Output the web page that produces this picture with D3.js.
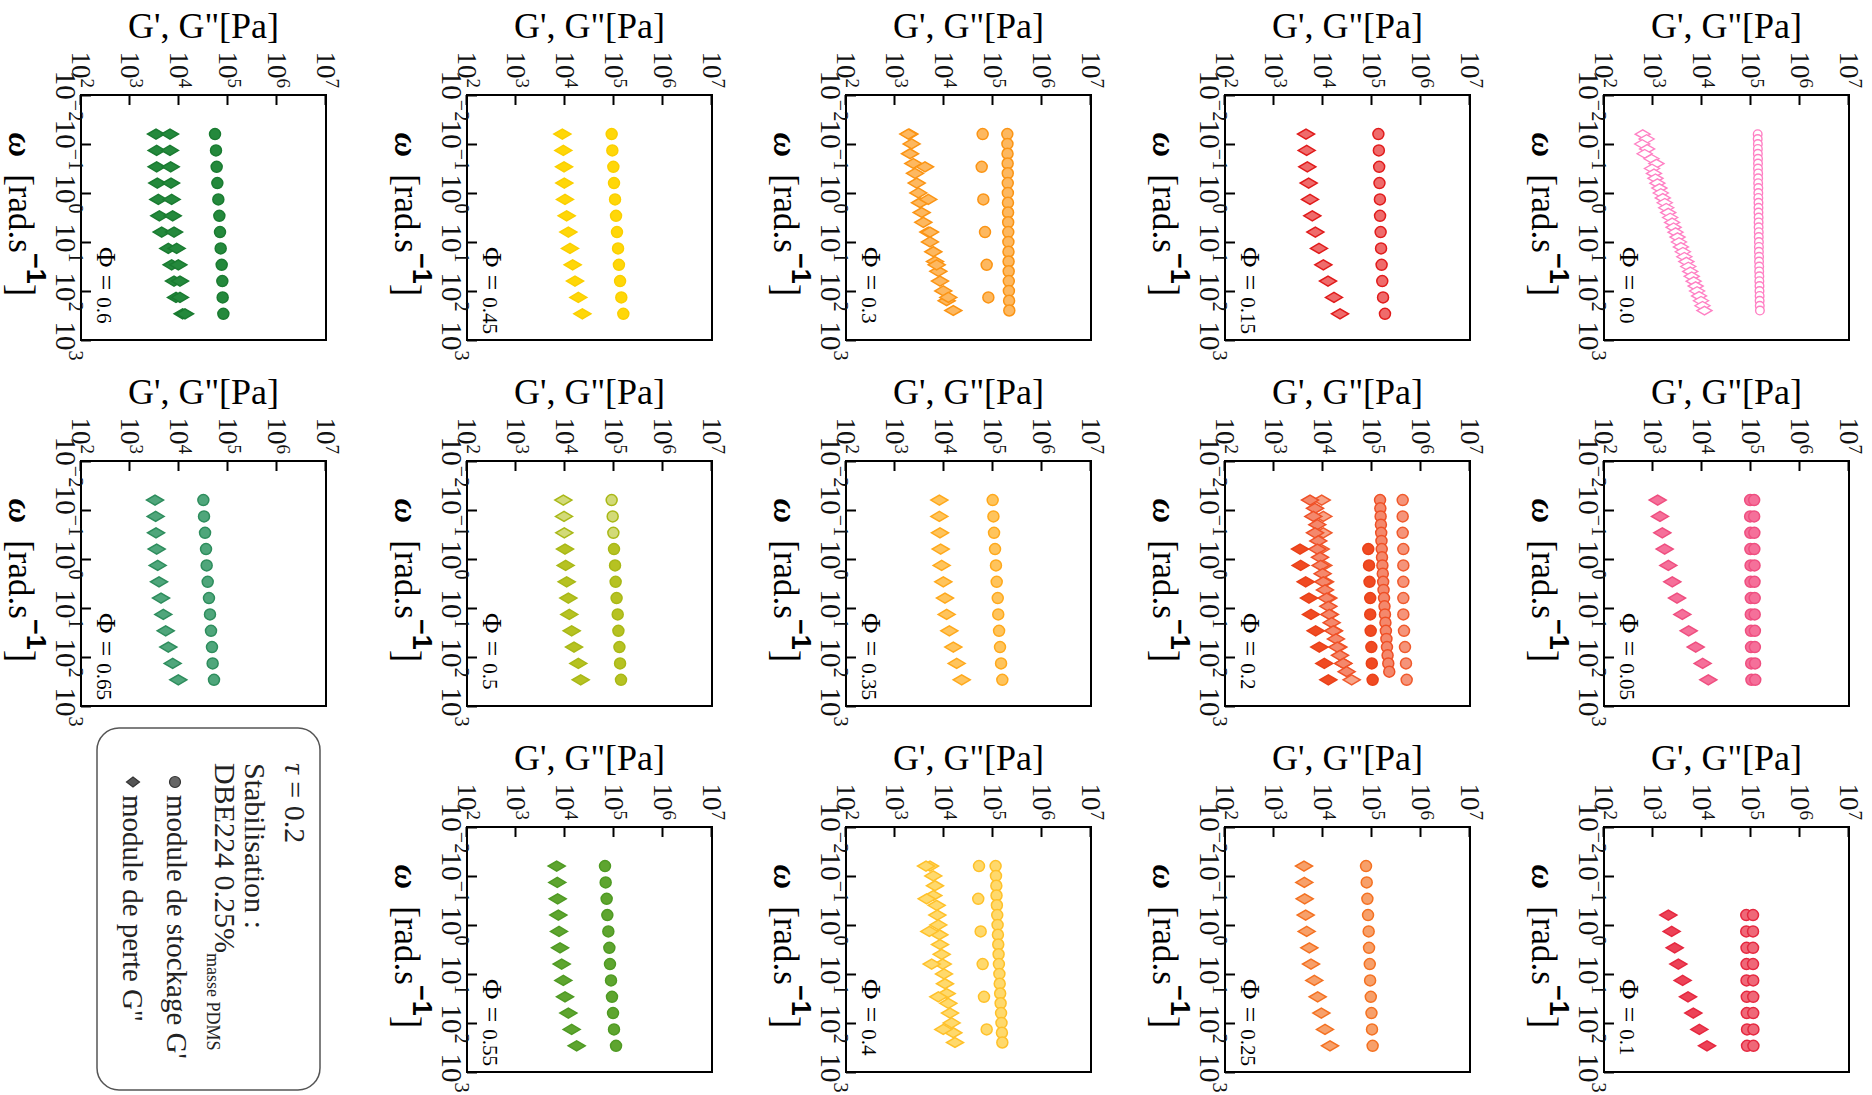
<!DOCTYPE html>
<html><head><meta charset="utf-8">
<script src="https://cdn.jsdelivr.net/npm/d3@7"></script>
<style>body{margin:0;background:#fff}svg{display:block}</style></head>
<body><svg id="c" width="1872" height="1095"></svg>
<script>
// ---------- DATA ----------
const wTicks = [1e-2, 1e-1, 1e0, 1e1, 1e2, 1e3];
const wTickExp = ["−2", "−1", "0", "1", "2", "3"];
const gTicks = [1e2, 1e3, 1e4, 1e5, 1e6, 1e7];
const gTickExp = ["2", "3", "4", "5", "6", "7"];

const w12 = [0.0628, 0.135, 0.292, 0.628, 1.35, 2.92, 6.28, 13.5, 29.2, 62.8, 135, 292];
const w9 = [0.628, 1.35, 2.92, 6.28, 13.5, 29.2, 62.8, 135, 292];
const w6 = [0.0628, 0.292, 1.35, 6.28, 29.2, 135];
const w19 = [0.0628, 0.0995, 0.158, 0.25, 0.396, 0.628, 0.995, 1.58, 2.5, 3.96, 6.28, 9.95, 15.8, 25, 39.6, 62.8, 99.5, 158, 250];
const w22 = [0.0628, 0.0923, 0.135, 0.199, 0.292, 0.428, 0.628, 0.923, 1.35, 1.99, 2.92, 4.28, 6.28, 9.23, 13.5, 19.9, 29.2, 42.8, 62.8, 92.3, 135, 199];
const w37 = [0.063, 0.079, 0.1, 0.126, 0.158, 0.2, 0.251, 0.316, 0.398, 0.501, 0.631, 0.794, 1, 1.26, 1.58, 2, 2.51, 3.16, 3.98, 5.01, 6.31, 7.94, 10, 12.6, 15.8, 20, 25.1, 31.6, 39.8, 50.1, 63.1, 79.4, 100, 126, 158, 200, 251];

const phiLabels = ["0.0", "0.05", "0.1", "0.15", "0.2", "0.25", "0.3", "0.35", "0.4", "0.45", "0.5", "0.55", "0.6", "0.65"];

const p000_Gp = [1.37e5,1.37e5,1.38e5,1.38e5,1.38e5,1.39e5,1.39e5,1.39e5,1.40e5,1.40e5,1.40e5,1.41e5,1.41e5,1.41e5,1.42e5,1.42e5,1.42e5,1.43e5,1.43e5,1.43e5,1.44e5,1.44e5,1.45e5,1.45e5,1.45e5,1.46e5,1.46e5,1.47e5,1.47e5,1.48e5,1.48e5,1.49e5,1.49e5,1.50e5,1.50e5,1.51e5,1.52e5];
const p000_Gpp = [617,741,603,759,676,933,1175,955,1047,1122,1230,1349,1445,1585,1738,1862,2042,2239,2455,2630,2884,3162,3388,3715,4074,4365,4786,5248,5754,6166,6761,7413,7943,8710,9550,10233,11220];

const p005_GpA = [9.6e4,9.6e4,9.7e4,9.7e4,9.8e4,9.8e4,9.9e4,9.9e4,1.0e5,1.0e5,1.01e5,1.02e5];
const p005_GpB = [1.16e5,1.16e5,1.17e5,1.17e5,1.18e5,1.18e5,1.19e5,1.19e5,1.2e5,1.2e5,1.21e5,1.22e5];
const p005_Gpp = [1245,1390,1549,1730,2056,2477,3090,3970,5350,7430,10320,13460];

const p010_GpA = [8.0e4,8.0e4,8.1e4,8.1e4,8.1e4,8.2e4,8.2e4,8.3e4,8.3e4];
const p010_GpB = [1.1e5,1.1e5,1.1e5,1.1e5,1.11e5,1.11e5,1.11e5,1.12e5,1.12e5];
const p010_Gpp = [2056,2405,2770,3290,4030,5180,6650,8830,12650];

const p015_Gp = [1.35e5,1.38e5,1.40e5,1.42e5,1.45e5,1.46e5,1.50e5,1.53e5,1.57e5,1.62e5,1.68e5,1.84e5];
const p015_Gpp = [4500,4645,4786,5094,5430,6050,6980,8280,10160,12650,16760,22230];

const p020_GpA = [4.23e5,4.23e5,4.23e5,4.36e5,4.36e5,4.36e5,4.36e5,4.36e5,4.5e5,4.71e5,4.94e5,5.1e5];
const p020_GpB = [1.46e5,1.48e5,1.50e5,1.52e5,1.54e5,1.56e5,1.58e5,1.60e5,1.63e5,1.66e5,1.69e5,1.72e5,1.76e5,1.80e5,1.84e5,1.88e5,1.92e5,1.97e5,2.02e5,2.08e5,2.15e5,2.25e5];
const p020_GpC = [8.4e4,8.7e4,8.9e4,9.2e4,9.2e4,9.4e4,9.7e4,9.9e4,1.03e5];
const p020_GppA = [9400,10160,10160,8955,10160,10990,12850,13900,16760,20560,26000,38460];
const p020_GppB = [5430,6870,6350,7660,6870,8035,7660,8690,8955,9840,10160,10990,11880,12850,13460,15030,16260,18400,19590,22230,26000,30400];
const p020_GppC = [3395,3500,4430,5180,5690,7080,8410,10640,12850];

const p025_Gp = [7.55e4,7.8e4,8.05e4,8.3e4,8.55e4,8.7e4,9.0e4,9.15e4,9.45e4,9.75e4,1.0e5,1.03e5];
const p025_Gpp = [4093,4160,4227,4430,4645,5260,5690,6650,7780,9250,10990,13900];

const p030_GpDense = [1.96e5,1.97e5,1.98e5,1.99e5,2.0e5,2.0e5,2.01e5,2.02e5,2.03e5,2.04e5,2.05e5,2.06e5,2.07e5,2.08e5,2.09e5,2.1e5,2.11e5,2.13e5,2.15e5];
const p030_GpSparse = [6.15e4,5.88e4,6.35e4,6.87e4,7.43e4,8.04e4];
const p030_GppDense = [1963,2188,2023,2366,2560,2770,2995,3236,3500,3785,4786,5180,6050,6545,7660,8280,9680,11330,15490];
const p030_GppSparse = [1870,4093,4786,5180,7080,12250];

const p035_Gp = [9.85e4,1.02e5,1.05e5,1.1e5,1.15e5,1.19e5,1.25e5,1.28e5,1.33e5,1.39e5,1.46e5,1.55e5];
const p035_Gpp = [8035,8035,8280,8550,8955,9680,10470,11330,12850,15490,18150,22960];

const p040_GpDense = [1.13e5,1.15e5,1.17e5,1.18e5,1.2e5,1.22e5,1.24e5,1.26e5,1.28e5,1.3e5,1.32e5,1.35e5,1.37e5,1.4e5,1.43e5,1.46e5,1.49e5,1.52e5,1.55e5];
const p040_GpSparse = [5.18e4,5.0e4,5.6e4,6.15e4,6.55e4,7.43e4];
const p040_GppDense = [5180,6050,6545,6050,7080,7310,7660,8035,8280,8955,9400,10000,10470,11330,12250,13250,14330,15490,16760];
const p040_GppSparse = [4295,4430,5020,5600,7660,9680];

const p045_Gp = [8.96e4,9.25e4,9.7e4,1.0e5,1.05e5,1.1e5,1.15e5,1.21e5,1.26e5,1.33e5,1.41e5,1.55e5];
const p045_Gpp = [8830,9250,9550,9680,10000,10810,11700,12650,14330,16000,18710,22600];

const p050_Gp = [8.96e4,9.4e4,9.7e4,1.0e5,1.05e5,1.08e5,1.13e5,1.19e5,1.23e5,1.29e5,1.33e5,1.39e5];
const p050_Gpp = [9250,9550,9680,10000,10320,10810,11700,12250,13680,15270,18710,20900];

const p055_Gp = [6.55e4,6.76e4,7.08e4,7.31e4,7.66e4,8.04e4,8.28e4,8.69e4,9.1e4,9.55e4,1.0e5,1.1e5];
const p055_Gpp = [6760,6970,7080,7310,7550,7910,8550,9250,10000,11700,13680,17300];

const p060_Gp = [5.43e4,5.69e4,5.87e4,6.06e4,6.35e4,6.66e4,6.87e4,7.09e4,7.43e4,7.66e4,7.78e4,8.04e4];
const p060_GppA = [3395,3500,3500,3610,3785,3970,4430,6050,7080,7910,8690,11880];
const p060_GppB = [6545,6545,6760,6870,7080,7430,7910,8955,9680,10470,10470,13250];

const p065_Gp = [3.14e4,3.24e4,3.4e4,3.56e4,3.67e4,3.85e4,4.09e4,4.29e4,4.5e4,4.71e4,4.86e4,5.18e4];
const p065_Gpp = [3240,3340,3395,3500,3675,3910,4295,4786,5350,6050,7430,9680];

const legendLines = ["τ = 0.2", "Stabilisation :", "DBE224 0.25%", "masse PDMS", "module de stockage G'", "module de perte G\""];

// ---------- STYLES ----------
const C = (fill, stroke) => ({fill, stroke});
const panels = [
  [ {w:w37, g:p000_Gp, m:"c", ...C("#ffffff","#ff80c4"), hollow:true}, {w:w37, g:p000_Gpp, m:"d", ...C("#ffffff","#ff80c4"), hollow:true} ],
  [ {w:w12, g:p005_GpA, m:"c", ...C("#f5709a","#ef4f80")}, {w:w12, g:p005_GpB, m:"c", ...C("#f5709a","#ef4f80")}, {w:w12, g:p005_Gpp, m:"d", ...C("#f5709a","#ef4f80")} ],
  [ {w:w9, g:p010_GpA, m:"c", ...C("#ef6878","#e5283f")}, {w:w9, g:p010_GpB, m:"c", ...C("#ef6878","#e5283f")}, {w:w9, g:p010_Gpp, m:"d", ...C("#ec4257","#e5283f")} ],
  [ {w:w12, g:p015_Gp, m:"c", ...C("#ef6b6b","#e01b1b")}, {w:w12, g:p015_Gpp, m:"d", ...C("#ef6b6b","#e01b1b")} ],
  [ {w:w12, g:p020_GpA, m:"c", ...C("#f5947a","#f05a2c")}, {w:w22, g:p020_GpB, m:"c", ...C("#f4886c","#ef5026")}, {w:w9, g:p020_GpC, m:"c", ...C("#f04a22","#ea4018")},
    {w:w12, g:p020_GppA, m:"d", ...C("#f7a488","#f05a2c")}, {w:w22, g:p020_GppB, m:"d", ...C("#f4886c","#ef5026")}, {w:w9, g:p020_GppC, m:"d", ...C("#f04a22","#ea4018")} ],
  [ {w:w12, g:p025_Gp, m:"c", ...C("#f7a06a","#f47121")}, {w:w12, g:p025_Gpp, m:"d", ...C("#f7a06a","#f47121")} ],
  [ {w:w19, g:p030_GpDense, m:"c", ...C("#fdb860","#fb9414")}, {w:w6, g:p030_GpSparse, m:"c", ...C("#fdb860","#fb9414")},
    {w:w19, g:p030_GppDense, m:"d", ...C("#fdb860","#fb9414")}, {w:w6, g:p030_GppSparse, m:"d", ...C("#fdb860","#fb9414")} ],
  [ {w:w12, g:p035_Gp, m:"c", ...C("#ffc45c","#ffa91c")}, {w:w12, g:p035_Gpp, m:"d", ...C("#ffc45c","#ffa91c")} ],
  [ {w:w19, g:p040_GpDense, m:"c", ...C("#ffd96c","#ffc12a")}, {w:w6, g:p040_GpSparse, m:"c", ...C("#ffd96c","#ffc12a")},
    {w:w19, g:p040_GppDense, m:"d", ...C("#ffd96c","#ffc12a")}, {w:w6, g:p040_GppSparse, m:"d", ...C("#ffd96c","#ffc12a")} ],
  [ {w:w12, g:p045_Gp, m:"c", ...C("#ffd708","#fbcf00")}, {w:w12, g:p045_Gpp, m:"d", ...C("#ffd708","#fbcf00")} ],
  [ {w:w12, g:p050_Gp, m:"c", ...C("#b6c222","#a9b817"), lightFirst:3, light:"#d2da78"}, {w:w12, g:p050_Gpp, m:"d", ...C("#b6c222","#a9b817"), lightFirst:3, light:"#d2da78"} ],
  [ {w:w12, g:p055_Gp, m:"c", ...C("#5ea52f","#4f9a23")}, {w:w12, g:p055_Gpp, m:"d", ...C("#5ea52f","#4f9a23")} ],
  [ {w:w12, g:p060_Gp, m:"c", ...C("#24893c","#1a7b31")}, {w:w12, g:p060_GppA, m:"d", ...C("#24893c","#1a7b31")}, {w:w12, g:p060_GppB, m:"d", ...C("#24893c","#1a7b31")} ],
  [ {w:w12, g:p065_Gp, m:"c", ...C("#4fa67b","#2e8d5d")}, {w:w12, g:p065_Gpp, m:"d", ...C("#4fa67b","#2e8d5d")} ]
];

// ---------- LAYOUT (upright figure, rotated into the page) ----------
const W = 245, H = 245;
const colLeft = [95, 461, 827];
const rowTop = [23, 402, 781, 1160, 1546];
const serif = "Liberation Serif, Times New Roman, serif";

const svg = d3.select("#c");
const root = svg.append("g").attr("transform", "translate(1872,0) rotate(90)");

const x = d3.scaleLog().domain([1e-2, 1e3]).range([0, W]);
const y = d3.scaleLog().domain([1e2, 1e7]).range([H, 0]);

const diamond = (hx, hy) => `M0,${-hy}L${hx},0L0,${hy}L${-hx},0Z`;

panels.forEach((series, i) => {
  const row = Math.floor(i / 3), col = i % 3;
  const g = root.append("g").attr("transform", `translate(${colLeft[col]},${rowTop[row]})`);

  // ticks
  g.append("g").attr("transform", `translate(0,${H})`)
    .call(d3.axisBottom(x).tickValues(wTicks).tickSize(-10).tickFormat(""))
    .call(a => { a.select(".domain").remove(); a.selectAll("line").attr("stroke", "#000").attr("stroke-width", 2); });
  g.append("g")
    .call(d3.axisLeft(y).tickValues(gTicks).tickSize(-10).tickFormat(""))
    .call(a => { a.select(".domain").remove(); a.selectAll("line").attr("stroke", "#000").attr("stroke-width", 2); });

  // frame
  g.append("rect").attr("width", W).attr("height", H).attr("fill", "none").attr("stroke", "#000").attr("stroke-width", 2);

  // x tick labels
  const xl = g.append("g").selectAll("text").data(wTicks).join("text")
    .attr("x", d => x(d) + 1).attr("y", H + 25).attr("text-anchor", "middle")
    .attr("font-family", serif).attr("font-size", 29).attr("fill", "#111");
  xl.append("tspan").text("10");
  xl.append("tspan").attr("dy", -13).attr("font-size", 20).text(d => wTickExp[wTicks.indexOf(d)]);

  // y tick labels
  const yl = g.append("g").selectAll("text").data(gTicks).join("text")
    .attr("x", -7).attr("y", d => y(d) + 9).attr("text-anchor", "end")
    .attr("font-family", serif).attr("font-size", 27).attr("fill", "#111");
  yl.append("tspan").text("10");
  yl.append("tspan").attr("dy", -9).attr("font-size", 19).text(d => gTickExp[gTicks.indexOf(d)]);

  // y label
  g.append("text").attr("transform", `translate(${-57},${H / 2}) rotate(-90)`)
    .attr("text-anchor", "middle").attr("font-family", serif).attr("font-size", 36).attr("fill", "#000")
    .text("G', G\"[Pa]");

  // x label
  const xt = g.append("text").attr("x", W / 2 - 3).attr("y", H + 72).attr("text-anchor", "middle")
    .attr("font-family", serif).attr("fill", "#000");
  xt.append("tspan").attr("font-size", 34).attr("font-weight", "bold").attr("font-style", "italic").text("ω");
  xt.append("tspan").attr("dx", 17).attr("font-size", 35).text("[rad.s");
  xt.append("tspan").attr("dy", -18).attr("font-size", 27).attr("font-weight", "bold")
    .attr("font-family", "Liberation Sans, Arial, sans-serif").text("−1");
  xt.append("tspan").attr("dy", 18).attr("font-size", 38).text("]");

  // Φ label
  const pt = g.append("text").attr("x", 152).attr("y", H - 16).attr("font-family", serif).attr("fill", "#000");
  pt.append("tspan").attr("font-size", 28).text("Φ = ");
  pt.append("tspan").attr("font-size", 21).text(phiLabels[i]);

  // markers
  series.forEach(s => {
    const pts = d3.zip(s.w, s.g);
    const sw = s.hollow ? 1.4 : 1.5;
    const fillOf = (d, k) => (s.lightFirst && k < s.lightFirst) ? s.light : s.fill;
    if (s.m === "c") {
      g.append("g").selectAll("circle").data(pts).join("circle")
        .attr("cx", d => x(d[0])).attr("cy", d => y(d[1]))
        .attr("r", s.hollow ? 4.3 : 5.5)
        .attr("fill", fillOf).attr("stroke", s.stroke).attr("stroke-width", sw);
    } else {
      g.append("g").selectAll("path").data(pts).join("path")
        .attr("transform", d => `translate(${x(d[0])},${y(d[1])})`)
        .attr("d", s.hollow ? diamond(4.3, 7.5) : diamond(5, 8.5))
        .attr("fill", fillOf).attr("stroke", s.stroke).attr("stroke-width", sw);
    }
  });
});

// ---------- LEGEND ----------
const lg = root.append("g");
lg.append("rect").attr("x", 728).attr("y", 1552).attr("width", 362).attr("height", 223).attr("rx", 22)
  .attr("fill", "none").attr("stroke", "#555").attr("stroke-width", 1.5);
const lt = (xx, yy, size) => lg.append("text").attr("x", xx).attr("y", yy)
  .attr("font-family", serif).attr("font-size", size).attr("fill", "#222");
const l1 = lt(763, 1587, 30);
l1.append("tspan").attr("font-style", "italic").text(legendLines[0].slice(0, 1));
l1.append("tspan").text(legendLines[0].slice(1));
lt(763, 1627, 30).text(legendLines[1]);
const l3 = lt(763, 1657, 30);
l3.append("tspan").text(legendLines[2]);
l3.append("tspan").attr("dy", 8).attr("font-size", 18).text(legendLines[3]);
lg.append("circle").attr("cx", 782).attr("cy", 1697).attr("r", 5.5).attr("fill", "#666").attr("stroke", "#333").attr("stroke-width", 1.2);
lt(795, 1705, 29).text(legendLines[4]);
lg.append("path").attr("transform", "translate(782,1739)").attr("d", diamond(5, 6.5)).attr("fill", "#555").attr("stroke", "#333").attr("stroke-width", 1.2);
lt(795, 1749, 29).text(legendLines[5]);
</script></body></html>
